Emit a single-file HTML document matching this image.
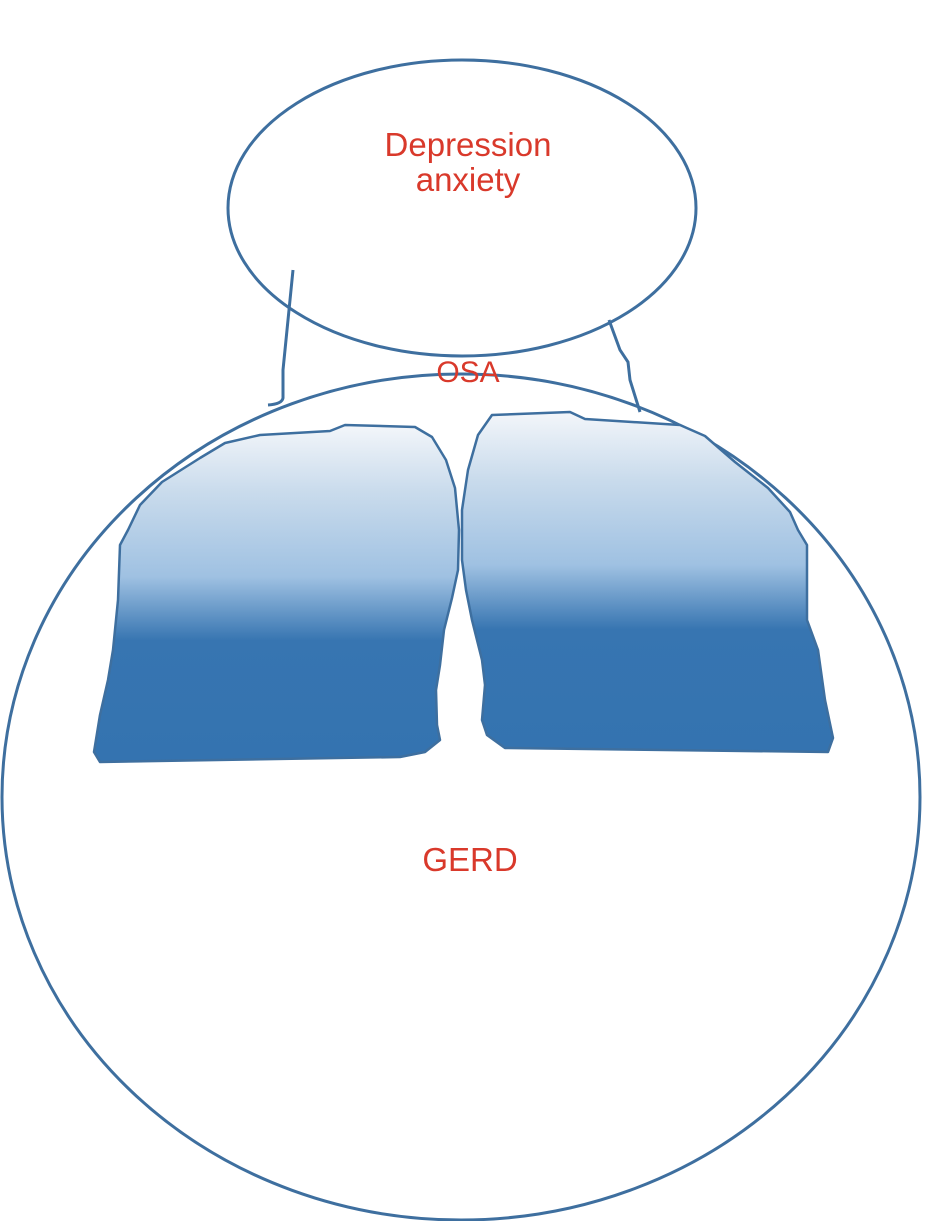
<!DOCTYPE html>
<html><head><meta charset="utf-8"><style>
html,body{margin:0;padding:0;background:#fff;}
svg{display:block;}
text{font-family:"Liberation Sans",sans-serif;fill:#d9392b;}
</style></head><body>
<svg width="925" height="1221" viewBox="0 0 925 1221">
<defs>
<linearGradient id="g" x1="0" y1="0" x2="0" y2="1" gradientUnits="objectBoundingBox">
<stop offset="0" stop-color="#f3f6fa"/>
<stop offset="0.2" stop-color="#c9dbec"/>
<stop offset="0.45" stop-color="#9fc1e2"/>
<stop offset="0.64" stop-color="#3775b1"/>
<stop offset="1" stop-color="#3473b0"/>
</linearGradient>
</defs>
<g fill="none" stroke="#3e6f9f" stroke-width="3">
<ellipse cx="462" cy="208" rx="234" ry="148"/>
<ellipse cx="461" cy="797" rx="459" ry="423"/>
<path d="M293 270 L287 330 L283 370 L283 398 Q282 404 268 405"/>
<path d="M609 320 L620 350 L628 362 L630 380 L640 412"/>
</g>
<path fill="url(#g)" stroke="#3e6f9f" stroke-width="2.5" stroke-linejoin="round" d="M120 545 L128 530 L140 505 L162 482 L200 458 L225 443 L260 435 L330 431 L345 425 L415 427 L432 437 L446 460 L455 488 L459 530 L458 570 L452 598 L444 630 L440 665 L436 690 L437 725 L440 740 L425 752 L400 757 L100 762 L94 752 L100 715 L108 680 L113 650 L118 600 Z"/>
<path fill="url(#g)" stroke="#3e6f9f" stroke-width="2.5" stroke-linejoin="round" d="M492 415 L570 412 L585 419 L680 425 L705 436 L735 462 L768 488 L790 512 L798 530 L807 545 L807 620 L818 650 L825 700 L833 738 L828 752 L505 748 L487 735 L482 720 L485 685 L482 660 L472 620 L466 590 L462 560 L462 510 L468 470 L478 435 Z"/>
<text x="468" y="156" font-size="33" text-anchor="middle">Depression</text>
<text x="468" y="191" font-size="33" text-anchor="middle">anxiety</text>
<text x="468" y="382" font-size="30" text-anchor="middle">OSA</text>
<text x="470" y="871" font-size="33" text-anchor="middle">GERD</text>
</svg>
</body></html>
